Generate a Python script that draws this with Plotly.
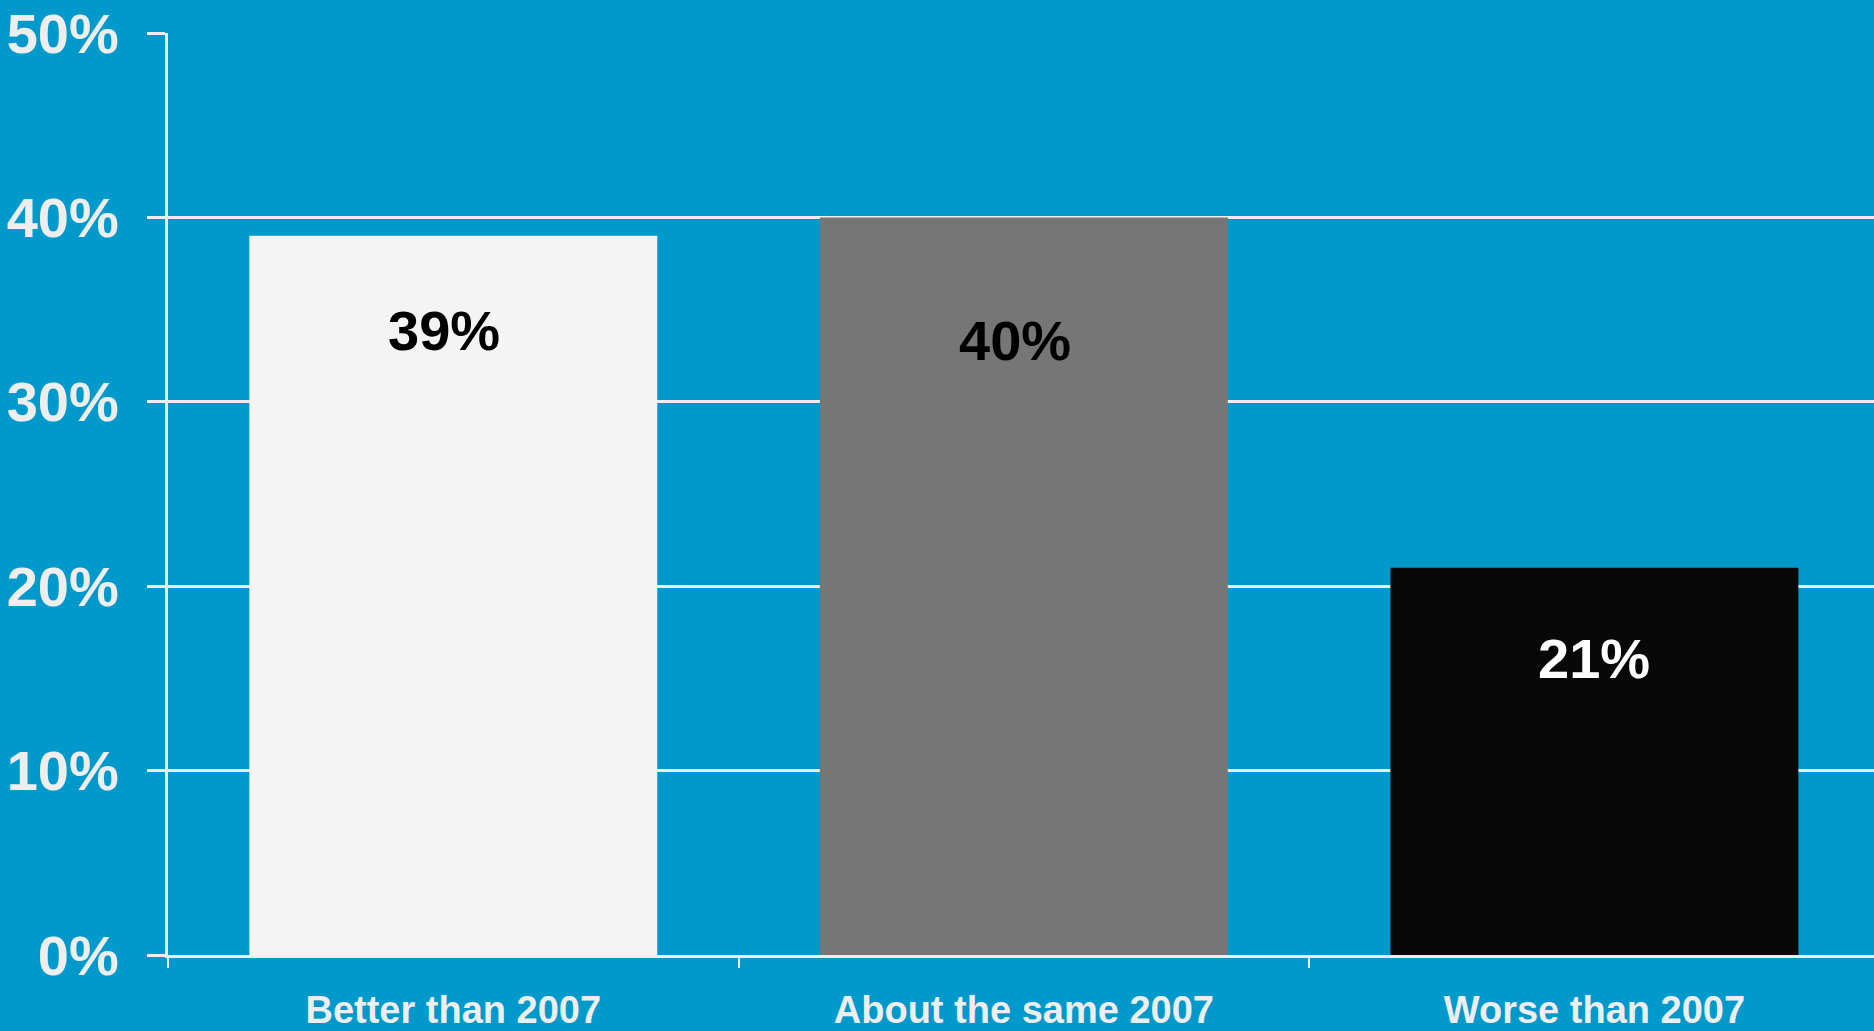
import plotly.graph_objects as go

categories = ["Better than 2007", "About the same 2007", "Worse than 2007"]
values = [39, 40, 21]
value_labels = ["39%", "40%", "21%"]
y_ticks = [0, 10, 20, 30, 40, 50]
y_tick_labels = ["0%", "10%", "20%", "30%", "40%", "50%"]

bar_colors = ["#f4f4f4", "#767676", "#080808"]
label_colors = ["#000000", "#000000", "#ffffff"]
label_shift_px = [-95, -123, -91]
label_xshift_px = [-9, -9, 0]

BG = "#0099cc"
LIGHT = "#eeeeee"
FONT = "Liberation Sans, Arial, sans-serif"

fig = go.Figure()
fig.add_trace(go.Bar(
    x=categories,
    y=values,
    marker=dict(color=bar_colors, line=dict(width=0)),
    width=0.715,
    hoverinfo="skip",
))

for i, (c, v, t) in enumerate(zip(categories, values, value_labels)):
    fig.add_annotation(
        x=c, y=v, xref="x", yref="y", text="<b>%s</b>" % t,
        showarrow=False, yanchor="middle", xanchor="center",
        yshift=label_shift_px[i], xshift=label_xshift_px[i],
        font=dict(family=FONT, size=56, color=label_colors[i]),
    )

fig.update_layout(
    width=1874, height=1031,
    paper_bgcolor=BG, plot_bgcolor=BG,
    margin=dict(l=168, r=0, t=33, b=76, autoexpand=False),
    showlegend=False,
    bargap=0.285,
)
fig.update_xaxes(
    type="category",
    range=[-0.5, 2.49],
    ticktext=["<b>%s</b>" % c for c in categories],
    tickvals=categories,
    tickson="boundaries",
    ticks="outside", ticklen=10, tickwidth=2, tickcolor=LIGHT,
    showgrid=False, zeroline=False,
    showline=True, linecolor=LIGHT, linewidth=3,
    tickfont=dict(family=FONT, size=38, color=LIGHT),
    ticklabelstandoff=19,
    automargin=False,
)
fig.update_yaxes(
    range=[0, 50],
    tickmode="array", tickvals=y_ticks,
    ticktext=["<b>%s</b>" % t for t in y_tick_labels],
    ticks="outside", ticklen=18, tickwidth=3, tickcolor=LIGHT,
    showgrid=True, gridcolor=LIGHT, gridwidth=3,
    zeroline=False,
    showline=True, linecolor=LIGHT, linewidth=3,
    tickfont=dict(family=FONT, size=56, color=LIGHT),
    ticklabelstandoff=17,
    automargin=False,
)

fig.write_html("out.html")
